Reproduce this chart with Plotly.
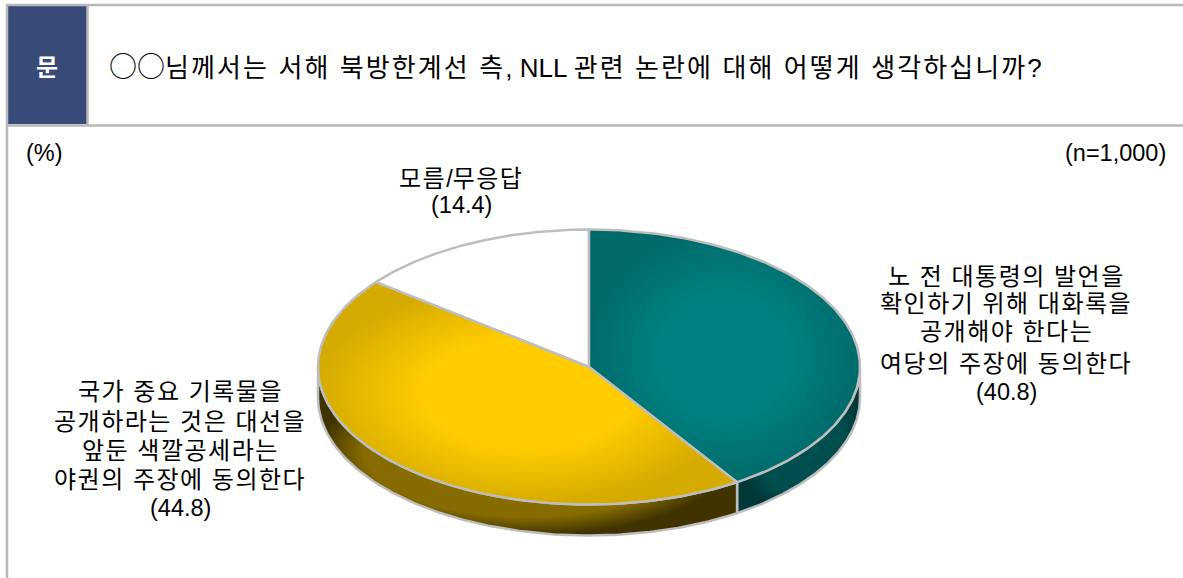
import re
import numpy as np
import plotly.graph_objects as go

question = "○○님께서는 서해 북방한계선 측, NLL 관련 논란에 대해 어떻게 생각하십니까?"
header_mark = "문"
unit_left = "(%)"
unit_right = "(n=1,000)"
values = [40.8, 44.8, 14.4]
label_teal = ["노 전 대통령의 발언을", "확인하기 위해 대화록을", "공개해야 한다는", "여당의 주장에 동의한다", "(40.8)"]
label_gold = ["국가 중요 기록물을", "공개하라는 것은 대선을", "앞둔 색깔공세라는", "야권의 주장에 동의한다", "(44.8)"]
label_none = ["모름/무응답", "(14.4)"]

FONT = "Liberation Sans, Arial, Noto Sans CJK KR, sans-serif"
GRAY = "#BEBEBE"
CX, CY, RX, RY, DEPTH = 589, 367, 271, 137.5, 31

top_scales = [
    [[0, "#008080"], [0.5, "#008080"], [1, "#006A6A"]],
    [[0, "#FFCC00"], [0.5, "#FFCC00"], [1, "#D6AB00"]],
    [[0, "#FFFFFF"], [1, "#FFFFFF"]],
]
side_scales = [
    [[0, "#005050"], [0.75, "#004D4D"], [1, "#003838"]],
    [[0, "#8A6E00"], [0.78, "#866B00"], [1, "#403300"]],
    None,
]

def arc(a0, a1):
    t = np.radians(np.linspace(a0, a1, 160))
    return CX + RX * np.sin(t), CY - RY * np.cos(t)

fig = go.Figure()
edges = np.concatenate([[0], np.cumsum(values)]) / sum(values) * 360

for i in range(len(values)):
    a0, a1 = edges[i], edges[i + 1]
    if side_scales[i] is None:
        continue
    a0s, a1s = max(a0, 90), min(a1, 270)
    ax, ay = arc(a0s, a1s)
    x = np.concatenate([ax, ax[::-1], ax[:1]])
    y = np.concatenate([ay, ay[::-1] + DEPTH, ay[:1]])
    fig.add_trace(go.Scatter(x=x, y=y, mode="lines", fill="toself", hoverinfo="skip",
                             line=dict(color=GRAY, width=2.5),
                             fillgradient=dict(type="radial", colorscale=side_scales[i])))

for i in [2, 0, 1]:
    ax, ay = arc(edges[i], edges[i + 1])
    x = np.concatenate([[CX], ax, [CX]])
    y = np.concatenate([[CY], ay, [CY]])
    fig.add_trace(go.Scatter(x=x, y=y, mode="lines", fill="toself", hoverinfo="skip",
                             line=dict(color=GRAY, width=2.5),
                             fillgradient=dict(type="radial", colorscale=top_scales[i])))

def mixed(s, size_cjk, spacing):
    s = re.sub(r"([가-힣][가-힣 ]*)",
               rf'<span style="font-size:{size_cjk}px;letter-spacing:{spacing}px">\1</span>', s)
    return re.sub(r"(○+)",
                  r'<span style="font-family:Noto Sans CJK KR;font-size:28px">\1</span>', s)

def text(x, y, s, size=23.5, size_cjk=24, spacing=1.5, color="#000000", anchor="center", bold=False, h=26):
    body = mixed(s, size_cjk, spacing)
    fig.add_annotation(x=x, y=y, text=f"<b>{body}</b>" if bold else body, showarrow=False,
                       xanchor=anchor, yanchor="middle", height=h, borderpad=0,
                       font=dict(family=FONT, size=size, color=color))

for s, y in zip(label_teal, [276, 303, 331, 363, 392]):
    text(1006, y, s)
for s, y in zip(label_gold, [391, 421, 450, 479, 508]):
    text(180, y, s)
for s, y in zip(label_none, [178, 205]):
    text(461, y, s)
text(44, 153, unit_left)
text(1167, 153, unit_right, anchor="right")
text(108, 64.5, question, size=26, size_cjk=26, spacing=2.1, anchor="left", h=34)
text(47, 67, header_mark, size=24, size_cjk=24, spacing=0, color="#FFFFFF", bold=True, h=34)

shapes = [
    dict(type="rect", x0=8, x1=87, y0=6, y1=124, fillcolor="#374A78", line_width=0, layer="below"),
    dict(type="line", x0=6, x1=1183, y0=5, y1=5),
    dict(type="line", x0=7, x1=7, y0=5, y1=578),
    dict(type="line", x0=87.5, x1=87.5, y0=5, y1=125),
    dict(type="line", x0=6, x1=1183, y0=125.5, y1=125.5),
]
for s in shapes:
    if s["type"] == "line":
        s["line"] = dict(color="#B8B8B8", width=2.5)
fig.update_layout(
    width=1183, height=578, margin=dict(l=0, r=0, t=0, b=0),
    paper_bgcolor="white", plot_bgcolor="white", showlegend=False, shapes=shapes,
    xaxis=dict(range=[0, 1183], visible=False, fixedrange=True),
    yaxis=dict(range=[578, 0], visible=False, fixedrange=True),
)
fig.write_html("out.html", config=dict(displayModeBar=False),
               post_script="document.body.style.margin='0';")
